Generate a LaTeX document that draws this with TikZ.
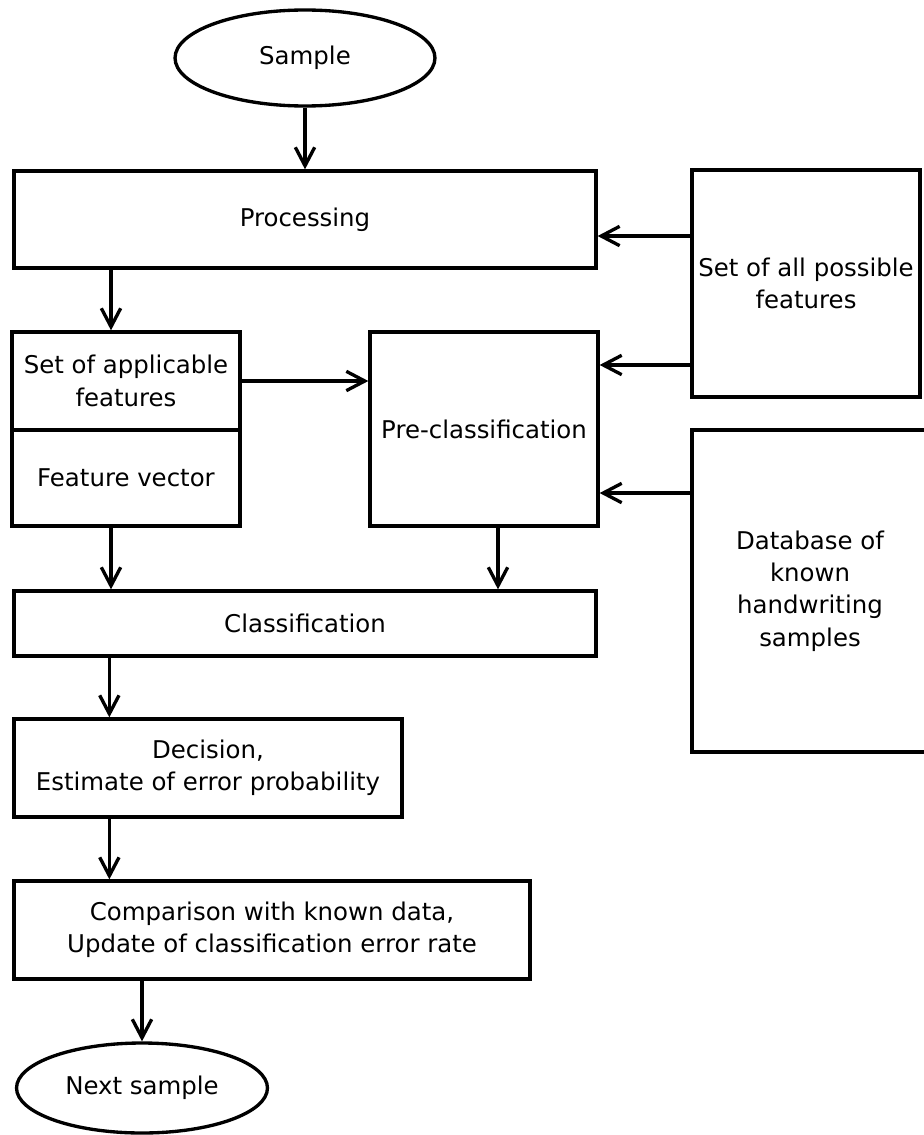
\documentclass[tikz,border=0pt]{standalone}
\usepackage{fontspec}
\setmainfont{DejaVu Sans}
\usetikzlibrary{shapes.geometric,arrows.meta}

\begin{document}
\begin{tikzpicture}[x=0.02cm,y=-0.02cm,
  font=\fontsize{13.9pt}{18.4pt}\selectfont,
  box/.style={draw,line width=1.9pt,rectangle,align=center,inner sep=0pt},
  term/.style={draw,line width=1.9pt,ellipse,inner sep=0pt},
  arr/.style={line width=1.9pt,-{Straight Barb[length=10.5pt,width=11pt]}}]
\useasboundingbox (0,0) rectangle (923,1135);
\node [term,minimum width=5.2cm,minimum height=1.92cm] (sample) at (305,58) {Sample};
\node [box,minimum width=11.64cm,minimum height=1.94cm] (proc) at (305,219.5) {Processing};
\node [box,minimum width=4.56cm,minimum height=1.96cm] (appl) at (126,381) {Set of applicable\\features};
\node [box,minimum width=4.56cm,minimum height=1.92cm] (fvec) at (126,478) {Feature vector};
\node [box,minimum width=4.56cm,minimum height=3.88cm] (pre) at (484,429) {Pre-classification};
\node [box,minimum width=4.56cm,minimum height=4.54cm] (allf) at (806,283.5) {Set of all possible\\features};
\node [box,minimum width=4.72cm,minimum height=6.44cm] (db) at (810,591) {Database of\\known\\handwriting\\samples};
\node [box,minimum width=11.64cm,minimum height=1.3cm] (cls) at (305,623.5) {Classification};
\node [box,minimum width=7.76cm,minimum height=1.96cm] (dec) at (208,768) {Decision,\\Estimate of error probability};
\node [box,minimum width=10.32cm,minimum height=1.96cm] (cmp) at (272,930) {Comparison with known data,\\Update of classification error rate};
\node [term,minimum width=5.02cm,minimum height=1.8cm] (next) at (142,1088) {Next sample};
\coordinate (p1) at ([xshift=-0.3cm]appl.north);
\coordinate (p2) at ([xshift=-0.3cm]fvec.south);
\coordinate (p3) at ([xshift=0.28cm]pre.south);
\coordinate (p4) at ([xshift=1.94cm]dec.north west);
\coordinate (p5) at ([xshift=1.94cm]cmp.north west);
\coordinate (a1) at ([yshift=0.95cm]allf.west);
\coordinate (a2) at ([yshift=-1.63cm]allf.west);
\coordinate (a3) at ([yshift=1.96cm]db.west);
\draw [arr] (sample) -- (proc);
\draw [arr] (p1 |- proc.south) -- (p1);
\draw [arr] (appl.east) -- (appl.east -| pre.west);
\draw [arr] (a1) -- (a1 -| proc.east);
\draw [arr] (a2) -- (a2 -| pre.east);
\draw [arr] (a3) -- (a3 -| pre.east);
\draw [arr] (p2) -- (p2 |- cls.north);
\draw [arr] (p3) -- (p3 |- cls.north);
\draw [arr] (p4 |- cls.south) -- (p4);
\draw [arr] (p5 |- dec.south) -- (p5);
\draw [arr] (next.north |- cmp.south) -- (next.north);
\end{tikzpicture}
\end{document}
